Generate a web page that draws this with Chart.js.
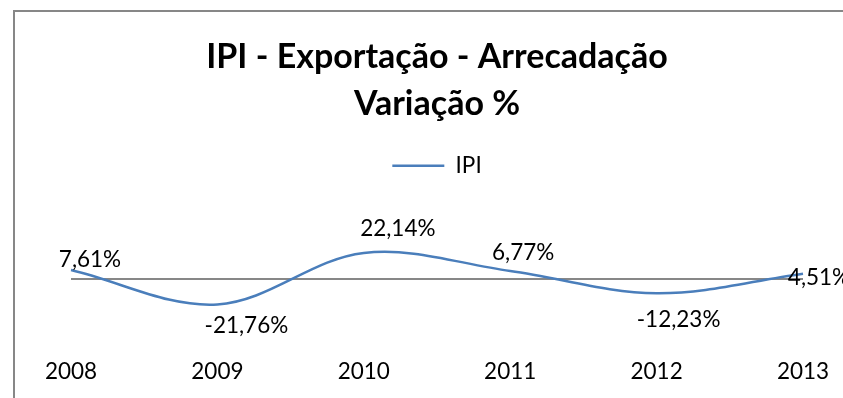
<!DOCTYPE html>
<html lang="pt-BR">
<head>
<meta charset="utf-8">
<title>IPI - Exportação - Arrecadação</title>
<script src="https://cdn.jsdelivr.net/npm/chart.js@4.4.1/dist/chart.umd.min.js"></script>
<style>
  html, body { margin: 0; padding: 0; background: #fff; overflow: hidden; }
  canvas { display: block; }
</style>
</head>
<body>
<canvas id="chart-canvas" width="843" height="398"></canvas>
<script>
// --- DADOS ---
const anos = ['2008', '2009', '2010', '2011', '2012', '2013'];
const variacaoIPI = [7.61, -21.76, 22.14, 6.77, -12.23, 4.51];
const tituloLinhas = ['IPI - Exportação - Arrecadação', 'Variação %'];
const nomeSerie = 'IPI';

const azul = '#4A7EBB';
const cinza = '#878787';

Chart.defaults.font.family = 'Lato, "Open Sans", sans-serif';
Chart.defaults.color = '#000';

function formataPct(v) {
    return v.toFixed(2).replace('.', ',') + '%';
}

// moldura cinza do gráfico: só as bordas esquerda e superior aparecem
const moldura = {
    id: 'moldura',
    beforeDraw(chart) {
        const ctx = chart.ctx;
        ctx.save();
        ctx.fillStyle = '#fff';
        ctx.fillRect(0, 0, chart.width, chart.height);
        ctx.strokeStyle = cinza;
        ctx.lineWidth = 2;
        ctx.beginPath();
        ctx.moveTo(14, chart.height);
        ctx.lineTo(14, 11);
        ctx.lineTo(chart.width, 11);
        ctx.stroke();
        ctx.restore();
    }
};

// eixo das categorias cruzando no zero
const linhaZero = {
    id: 'linhaZero',
    beforeDatasetsDraw(chart) {
        const {ctx, chartArea, scales} = chart;
        const y = scales.y.getPixelForValue(0);
        ctx.save();
        ctx.strokeStyle = cinza;
        ctx.lineWidth = 2;
        ctx.beginPath();
        ctx.moveTo(chartArea.left, y);
        ctx.lineTo(chartArea.right, y);
        ctx.stroke();
        ctx.restore();
    }
};

// rótulos de valor, deslocados a partir de cada ponto
const rotulos = {
    id: 'rotulos',
    afterDatasetsDraw(chart) {
        const ctx = chart.ctx;
        const meta = chart.getDatasetMeta(0);
        const dx = [19, 29, 34, 13, 22, 16];
        const dy = [-10, 21, -24, -18, 26, 4];
        ctx.save();
        ctx.font = '22.5px Lato, "Open Sans", sans-serif';
        ctx.fillStyle = '#000';
        ctx.textAlign = 'center';
        ctx.textBaseline = 'middle';
        meta.data.forEach((pt, i) => {
            ctx.fillText(formataPct(variacaoIPI[i]), pt.x + dx[i], pt.y + dy[i]);
        });
        ctx.restore();
    }
};

const ctx = document.getElementById('chart-canvas').getContext('2d');
new Chart(ctx, {
    type: 'line',
    data: {
        labels: anos,
        datasets: [{
            label: nomeSerie,
            data: variacaoIPI,
            borderColor: azul,
            backgroundColor: azul,
            borderWidth: 2.5,
            pointRadius: 0,
            pointStyle: 'line',
            tension: 0.35,
            fill: false,
            clip: false
        }]
    },
    options: {
        responsive: false,
        animation: false,
        layout: {
            autoPadding: false,
            padding: { top: 33.5, left: 71, right: 40, bottom: 12.5 }
        },
        plugins: {
            title: {
                display: true,
                text: tituloLinhas,
                font: { size: 34, weight: 'bold', lineHeight: '47px' },
                color: '#000',
                padding: { top: 0, bottom: 0 }
            },
            legend: {
                labels: {
                    usePointStyle: true,
                    pointStyle: 'line',
                    pointStyleWidth: 52,
                    font: { size: 22.5 },
                    color: '#000',
                    padding: 27
                }
            },
            tooltip: { enabled: false }
        },
        scales: {
            x: {
                offset: false,
                grid: { display: false, drawTicks: false },
                border: { display: false },
                ticks: { font: { size: 22.5 }, color: '#000', padding: 44 },
                afterFit(axis) {
                    axis.height = 71.4;
                    axis.paddingLeft = 0;
                    axis.paddingRight = 0;
                }
            },
            y: { display: false, min: -30, max: 78.4 }
        }
    },
    plugins: [moldura, linhaZero, rotulos]
});
</script>
</body>
</html>
